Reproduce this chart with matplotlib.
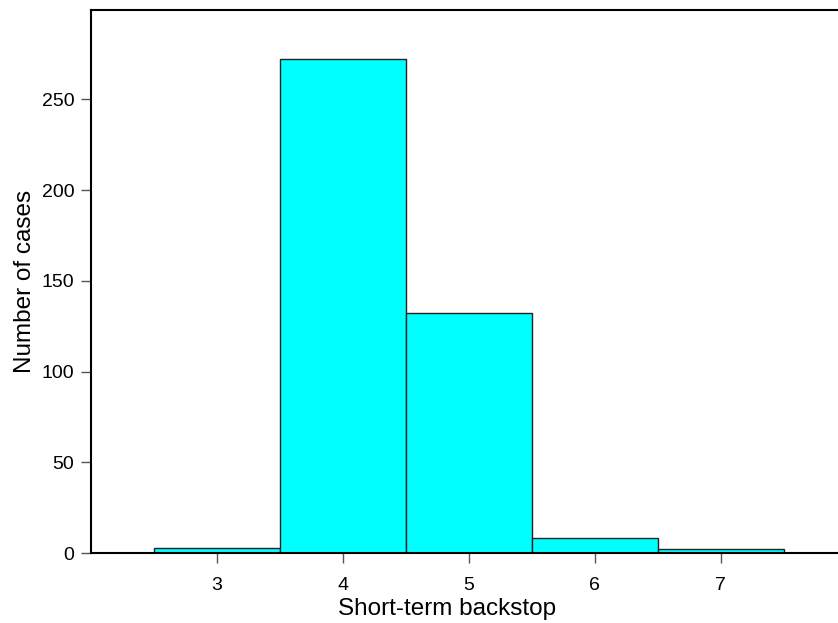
import matplotlib
matplotlib.use("Agg")
import matplotlib.pyplot as plt

backstop = [3, 4, 5, 6, 7]
cases = [3, 272, 132, 8, 2]

plt.rcParams['font.family'] = ['Liberation Sans', 'DejaVu Sans']

fig = plt.figure(figsize=(8.38, 6.23), dpi=100)
ax = fig.add_axes([91 / 838, 1 - 553 / 623, 1 - 91 / 838, 543 / 623])

ax.bar(backstop, cases, width=1.0, color='#00ffff', edgecolor='#222222', linewidth=1)

ax.set_xlim(2.0, 7.93)
ax.set_ylim(0, max(cases) * 1.1)
ax.set_xticks(backstop)
ax.set_yticks([0, 50, 100, 150, 200, 250])
ax.spines['right'].set_visible(False)
for s in ['left', 'top', 'bottom']:
    ax.spines[s].set_linewidth(1.5)
ax.tick_params(direction='out', length=7, width=1, color='#555555', labelsize=14)
ax.tick_params(axis='x', pad=10)
ax.tick_params(axis='y', pad=5)

ax.set_xlabel("Short-term backstop", fontsize=17.5)
ax.xaxis.set_label_coords(0.4766, -0.082)
ax.set_ylabel("Number of cases", fontsize=17.5, labelpad=4)

fig.savefig("out.png", dpi=100)
